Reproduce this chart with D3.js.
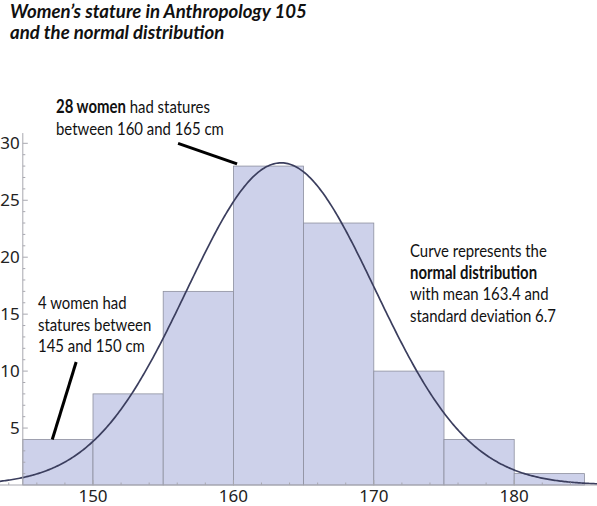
<html>
<head>
<title>Women's stature</title>
<script src="https://cdn.jsdelivr.net/npm/d3@7"></script>
<style>
  body { margin: 0; background: #fff; }
  text { font-family: "Noto Sans", sans-serif; }
</style>
</head>
<body>
<script>
// histogram data
var binStarts = [145, 150, 155, 160, 165, 170, 175, 180];
var binWidth = 5;
var counts = [4, 8, 17, 28, 23, 10, 4, 1];
var mean = 163.4;
var sd = 6.7;
var xTicks = [150, 160, 170, 180];
var yTicks = [5, 10, 15, 20, 25, 30];

var w = 597, h = 506;
var svg = d3.select("body").append("svg").attr("width", w).attr("height", h);

// scales: 145 sits on the y axis
var x = d3.scaleLinear().domain([145, 185]).range([22.8, 584.4]);
var y = d3.scaleLinear().domain([0, 30]).range([485, 143.3]);

var n = d3.sum(counts);

// bars
svg.selectAll("rect.bar")
  .data(counts)
  .enter().append("rect")
  .attr("class", "bar")
  .attr("x", function(d, i) { return x(binStarts[i]); })
  .attr("y", function(d) { return y(d); })
  .attr("width", function(d, i) { return x(binStarts[i] + binWidth) - x(binStarts[i]); })
  .attr("height", function(d) { return y(0) - y(d); })
  .attr("fill", "#cdd1ea")
  .attr("stroke", "#8d8f9e")
  .attr("stroke-width", 0.8);

// normal curve scaled to counts
var xs = d3.range(x.invert(0), x.invert(w) + 0.1, 0.1);
var curve = xs.map(function(v) {
  var z = (v - mean) / sd;
  return [v, n * binWidth * Math.exp(-0.5 * z * z) / (sd * Math.sqrt(2 * Math.PI))];
});
svg.append("path")
  .datum(curve)
  .attr("fill", "none")
  .attr("stroke", "#3b3e5e")
  .attr("stroke-width", 1.7)
  .attr("d", d3.line().x(function(d) { return x(d[0]); }).y(function(d) { return y(d[1]); }));

// axes
var axisColor = "#a8a8b0";
svg.append("line").attr("x1", 0).attr("x2", w).attr("y1", y(0)).attr("y2", y(0))
  .attr("stroke", axisColor).attr("stroke-width", 1);
svg.append("line").attr("x1", x(145)).attr("x2", x(145)).attr("y1", y(0)).attr("y2", y(30.9))
  .attr("stroke", axisColor).attr("stroke-width", 1);

var xMinor = d3.range(144, 186, 2).filter(function(v) { return xTicks.indexOf(v) < 0; });
svg.selectAll("line.xminor").data(xMinor).enter().append("line")
  .attr("x1", function(d) { return x(d); }).attr("x2", function(d) { return x(d); })
  .attr("y1", y(0)).attr("y2", y(0) - 2.5).attr("stroke", axisColor);
svg.selectAll("line.xmajor").data(xTicks).enter().append("line")
  .attr("x1", function(d) { return x(d); }).attr("x2", function(d) { return x(d); })
  .attr("y1", y(0)).attr("y2", y(0) - 5).attr("stroke", axisColor);
svg.selectAll("text.xlab").data(xTicks).enter().append("text")
  .attr("x", function(d) { return x(d); }).attr("y", 502)
  .attr("text-anchor", "middle").attr("font-size", 17).attr("fill", "#222")
  .text(function(d) { return d; });

var yMinor = d3.range(1, 31).filter(function(v) { return v % 5 !== 0; });
svg.selectAll("line.yminor").data(yMinor).enter().append("line")
  .attr("x1", x(145)).attr("x2", x(145) + 2.5)
  .attr("y1", function(d) { return y(d); }).attr("y2", function(d) { return y(d); })
  .attr("stroke", axisColor);
svg.selectAll("line.ymajor").data(yTicks).enter().append("line")
  .attr("x1", x(145)).attr("x2", x(145) + 5)
  .attr("y1", function(d) { return y(d); }).attr("y2", function(d) { return y(d); })
  .attr("stroke", axisColor);
svg.selectAll("text.ylab").data(yTicks).enter().append("text")
  .attr("x", x(145) - 3).attr("y", function(d) { return y(d) + 6; })
  .attr("text-anchor", "end").attr("font-size", 17).attr("fill", "#222")
  .text(function(d) { return d; });

// title
var title = svg.append("text").attr("x", 10).attr("y", 18)
  .style("font-family", "Lato, sans-serif").attr("font-size", 18.6)
  .attr("font-weight", "bold").attr("font-style", "italic").attr("fill", "#111");
title.append("tspan").attr("x", 10).text("Women\u2019s stature in Anthropology 105");
title.append("tspan").attr("x", 10).attr("dy", 21).text("and the normal distribution");

// annotations: one text per line, condensed horizontally like the narrow face of the original
var noteSize = 18, lineGap = 21.7, noteFont = "Lato, sans-serif";
var probe = svg.append("text").style("font-family", noteFont).attr("font-size", noteSize).text("Curve represents the");
var sx = 137 / probe.node().getComputedTextLength();   // that line is ~137px wide in the original
probe.remove();

function note(px, py, lines) {
  lines.forEach(function(parts, i) {
    var t = svg.append("text").attr("x", 0).attr("y", 0)
      .style("font-family", noteFont).attr("font-size", noteSize).attr("fill", "#111")
      .attr("transform", "translate(" + px + "," + (py + i * lineGap) + ") scale(" + sx + ",1)");
    parts.forEach(function(p) {
      var s = t.append("tspan").text(p[0]);
      if (p[1]) s.attr("font-weight", "bold");
    });
  });
}
note(56, 113, [[["28 women", true], [" had statures"]], [["between 160 and 165 cm"]]]);
note(38, 309, [[["4 women had"]], [["statures between"]], [["145 and 150 cm"]]]);
note(410, 257, [[["Curve represents the"]], [["normal distribution", true]], [["with mean 163.4 and"]], [["standard deviation 6.7"]]]);

// pointer lines, in data coordinates
var pointers = [
  { from: [156.06, 30.0], to: [160.26, 28.2] },
  { from: [148.8, 10.8], to: [147.1, 4.0] }
];
svg.selectAll("line.ptr").data(pointers).enter().append("line")
  .attr("x1", function(d) { return x(d.from[0]); }).attr("y1", function(d) { return y(d.from[1]); })
  .attr("x2", function(d) { return x(d.to[0]); }).attr("y2", function(d) { return y(d.to[1]); })
  .attr("stroke", "#000").attr("stroke-width", 3);
</script>
</body>
</html>
